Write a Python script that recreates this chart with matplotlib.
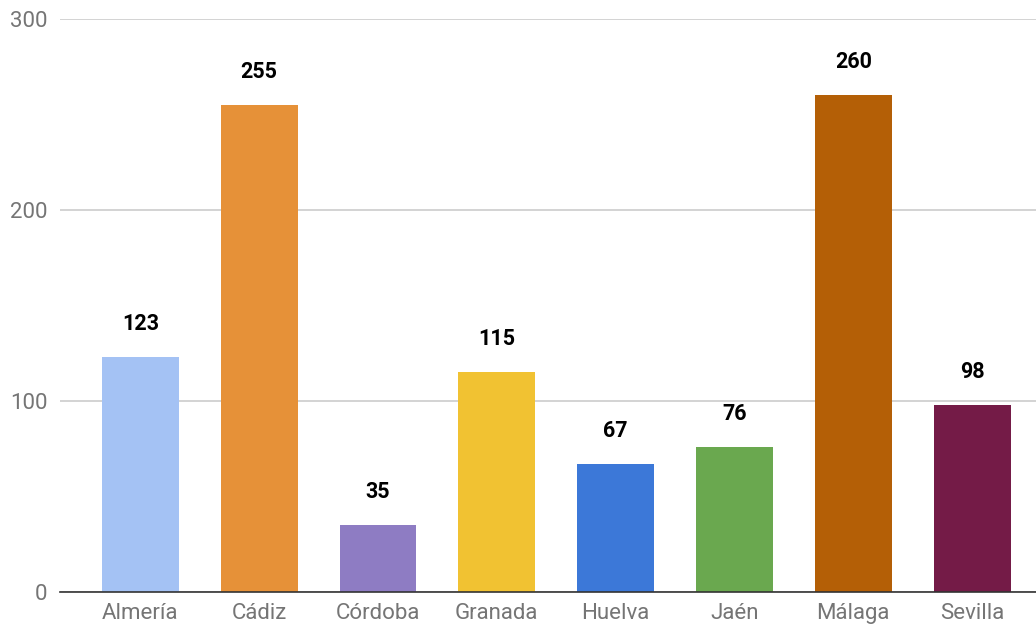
import numpy as np
import matplotlib.pyplot as plt

provincias = ['Almería', 'Cádiz', 'Córdoba', 'Granada', 'Huelva', 'Jaén', 'Málaga', 'Sevilla']
valores = [123, 255, 35, 115, 67, 76, 260, 98]
colores = ['#a4c2f4', '#e69138', '#8e7cc3', '#f1c232', '#3c78d8', '#6aa84f', '#b45f06', '#741b47']
y_ticks = [0, 100, 200, 300]

plt.rcParams['font.family'] = ['Roboto', 'DejaVu Sans']

fig = plt.figure(figsize=(10.36, 6.27), dpi=100)
# ejes colocados a mano para coincidir con la captura
ax = fig.add_axes([60 / 1036, 35 / 627, 976 / 1036, 573 / 627])

x = np.arange(len(provincias))
bars = ax.bar(x, valores, width=0.647, color=colores, zorder=3)

for xi, v in zip(x, valores):
    ax.annotate(str(v), (xi, v), xytext=(0, 22), textcoords='offset pixels',
                ha='center', va='bottom', fontsize=15.5, fontweight='bold', color='black')

ax.set_xlim(-0.676, 7.538)
ax.set_ylim(0, 300)
ax.set_yticks(y_ticks)
ax.set_xticks(x)
ax.set_xticklabels(provincias)
ax.tick_params(axis='both', length=0, labelsize=16, labelcolor='#757575')
ax.tick_params(axis='x', pad=8)
ax.tick_params(axis='y', pad=9)

ax.grid(axis='y', color='#cccccc', linewidth=1.2, zorder=0)
for s in ['top', 'right', 'left']:
    ax.spines[s].set_visible(False)
ax.spines['bottom'].set_color('#333333')
ax.spines['bottom'].set_linewidth(1.2)
ax.spines['bottom'].set_zorder(4)

fig.savefig('out.png', dpi=100)
